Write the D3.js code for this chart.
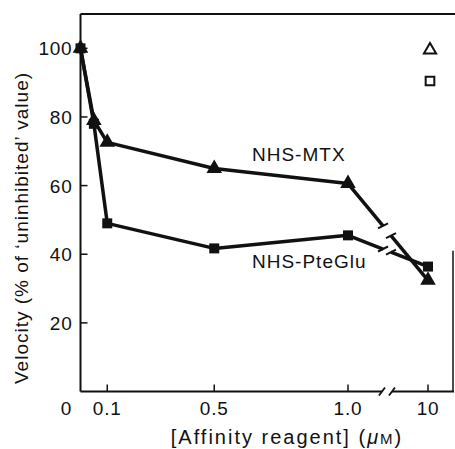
<!DOCTYPE html>
<html lang="en">
<head>
    <meta charset="utf-8">
    <title>Velocity vs affinity reagent</title>
    <script src="https://d3js.org/d3.v7.min.js"></script>
    <style>
        body { margin: 0; background: #fff; }
        svg text {
            font-family: "Liberation Sans", Arial, Helvetica, sans-serif;
            fill: #111;
        }
        .tick-label { font-size: 19px; letter-spacing: 0.8px; }
        .series-label { font-size: 19px; letter-spacing: 1px; }
        .axis-title { font-size: 19px; letter-spacing: 1px; }
        .x-title { font-size: 20px; letter-spacing: 2px; }
    </style>
</head>
<body>
    <div id="chart"></div>
    <script>
        // Data
        const concentrations = [0, 0.05, 0.1, 0.5, 1.0, 10];
        const mtxValues = [100, 79, 72.6, 65, 60.6, 32.4];
        const pteGluValues = [100, 78, 49, 41.7, 45.5, 36.4];
        const xTickValues = [0.1, 0.5, 1.0, 10];
        const xTickLabels = ["0.1", "0.5", "1.0", "10"];
        const yTickValues = [20, 40, 60, 80, 100];

        const width = 455, height = 449;

        const svg = d3.select("#chart").append("svg")
            .attr("width", width)
            .attr("height", height);

        // Broken x axis: linear 0..1.0, then a jump to 10
        const x = d3.scaleLinear()
            .domain([0, 1.0, 10])
            .range([80.5, 348, 428]);
        const xBreak = 387;

        const y = d3.scaleLinear()
            .domain([0, 110])
            .range([391.5, 14]);

        const ink = "#111";

        // Frame: left axis, top line, partial right edge
        svg.append("line")
            .attr("x1", x(0)).attr("x2", x(0))
            .attr("y1", y(110)).attr("y2", y(0))
            .attr("stroke", ink).attr("stroke-width", 2);
        svg.append("line")
            .attr("x1", x(0)).attr("x2", width)
            .attr("y1", y(110)).attr("y2", y(110))
            .attr("stroke", ink).attr("stroke-width", 2);
        svg.append("line")
            .attr("x1", 453).attr("x2", 453)
            .attr("y1", y(41)).attr("y2", y(0))
            .attr("stroke", ink).attr("stroke-width", 1.5);

        // Bottom axis with break
        svg.append("line")
            .attr("x1", x(0)).attr("x2", xBreak - 5)
            .attr("y1", y(0)).attr("y2", y(0))
            .attr("stroke", ink).attr("stroke-width", 2);
        svg.append("line")
            .attr("x1", xBreak + 5).attr("x2", 454)
            .attr("y1", y(0)).attr("y2", y(0))
            .attr("stroke", ink).attr("stroke-width", 2);
        [-5, 5].forEach(dx => {
            svg.append("line")
                .attr("x1", xBreak + dx - 3).attr("x2", xBreak + dx + 3)
                .attr("y1", y(0) + 4).attr("y2", y(0) - 4)
                .attr("stroke", ink).attr("stroke-width", 1.8);
        });

        // Ticks (inward)
        svg.selectAll(".xtick").data(xTickValues).enter().append("line")
            .attr("x1", d => x(d)).attr("x2", d => x(d))
            .attr("y1", y(0)).attr("y2", y(0) - 7)
            .attr("stroke", ink).attr("stroke-width", 1.5);
        svg.selectAll(".ytick").data(yTickValues).enter().append("line")
            .attr("x1", x(0)).attr("x2", x(0) + 7)
            .attr("y1", d => y(d)).attr("y2", d => y(d))
            .attr("stroke", ink).attr("stroke-width", 1.5);

        // Tick labels
        svg.selectAll(".xlab").data(xTickValues).enter().append("text")
            .attr("class", "tick-label")
            .attr("x", d => x(d)).attr("y", y(0) + 23)
            .attr("text-anchor", "middle")
            .text((d, i) => xTickLabels[i]);
        svg.append("text")
            .attr("class", "tick-label")
            .attr("x", x(0) - 14).attr("y", y(0) + 23)
            .attr("text-anchor", "middle")
            .text("0");
        svg.selectAll(".ylab").data(yTickValues).enter().append("text")
            .attr("class", "tick-label")
            .attr("x", x(0) - 8).attr("y", d => y(d) + 7)
            .attr("text-anchor", "end")
            .text(d => d);

        // Axis titles
        const xt = svg.append("text")
            .attr("class", "x-title")
            .attr("x", 287).attr("y", 444)
            .attr("text-anchor", "middle");
        xt.append("tspan").text("[Affinity reagent] (");
        xt.append("tspan").style("font-style", "italic").text("\u03bc");
        xt.append("tspan").style("font-size", "15px").text("M");
        xt.append("tspan").text(")");

        svg.append("text")
            .attr("class", "axis-title")
            .attr("transform", "translate(28,228) rotate(-90)")
            .attr("text-anchor", "middle")
            .text("Velocity (% of \u2018uninhibited\u2019 value)");

        // Series lines with break between 1.0 and 10
        function drawSeries(values) {
            const pts = concentrations.map((c, i) => [x(c), y(values[i])]);
            const before = pts.slice(0, 5);
            const p1 = pts[4], p2 = pts[5];
            const t = xx => (xx - p1[0]) / (p2[0] - p1[0]);
            const at = xx => [xx, p1[1] + t(xx) * (p2[1] - p1[1])];
            const gA = at(xBreak - 4), gB = at(xBreak + 4);
            const line = d3.line();
            svg.append("path")
                .attr("d", line(before.concat([gA])))
                .attr("fill", "none").attr("stroke", ink)
                .attr("stroke-width", 3.5).attr("stroke-linejoin", "round");
            svg.append("path")
                .attr("d", line([gB, p2]))
                .attr("fill", "none").attr("stroke", ink)
                .attr("stroke-width", 3.5);
            [gA, gB].forEach(g => {
                svg.append("line")
                    .attr("x1", g[0] - 5).attr("x2", g[0] + 5)
                    .attr("y1", g[1] + 2.5).attr("y2", g[1] - 2.5)
                    .attr("stroke", ink).attr("stroke-width", 2);
            });
            return pts;
        }

        const mtxPts = drawSeries(mtxValues);
        const ptePts = drawSeries(pteGluValues);

        const tri = d3.symbol().type(d3.symbolTriangle).size(105);
        const sq = d3.symbol().type(d3.symbolSquare).size(100);

        svg.selectAll(".tri").data(mtxPts).enter().append("path")
            .attr("d", tri)
            .attr("transform", d => `translate(${d[0]},${d[1]})`)
            .attr("fill", ink);
        svg.selectAll(".sq").data(ptePts).enter().append("path")
            .attr("d", sq)
            .attr("transform", d => `translate(${d[0]},${d[1]})`)
            .attr("fill", ink);

        // Series labels
        svg.append("text").attr("class", "series-label")
            .attr("x", 252).attr("y", 161).text("NHS-MTX");
        svg.append("text").attr("class", "series-label")
            .attr("x", 252).attr("y", 268).text("NHS-PteGlu");

        // Open symbols, top right
        svg.append("path")
            .attr("d", d3.symbol().type(d3.symbolTriangle).size(65))
            .attr("transform", "translate(430,50)")
            .attr("fill", "none").attr("stroke", ink).attr("stroke-width", 2);
        svg.append("path")
            .attr("d", d3.symbol().type(d3.symbolSquare).size(75))
            .attr("transform", "translate(430,81)")
            .attr("fill", "none").attr("stroke", ink).attr("stroke-width", 2);
    </script>
</body>
</html>
